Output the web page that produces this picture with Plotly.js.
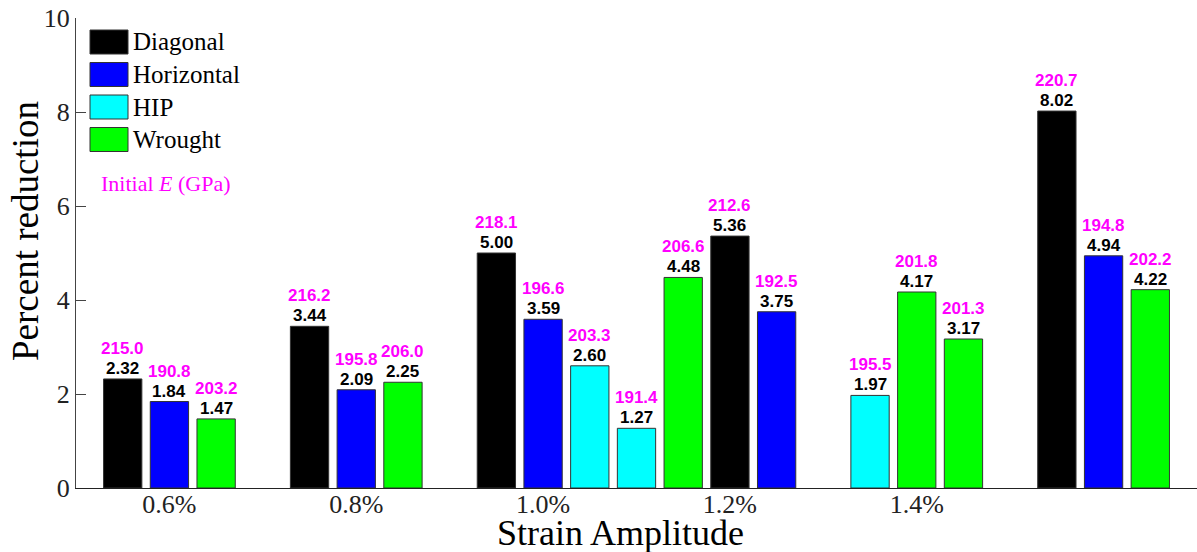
<!DOCTYPE html>
<html>
<head>
<meta charset="utf-8">
<script src="https://cdn.plot.ly/plotly-3.0.1.min.js"></script>
<style>
  html, body { margin: 0; padding: 0; background: #fff; }
  #chart { width: 1197px; height: 552px; }
</style>
</head>
<body>
<div id="chart"></div>
<script>
// Bar slots along the axis (one slot per bar, gaps between strain groups)
const diagonalSlots   = [0, 4, 8, 13, 20];
const diagonalValues  = [2.32, 3.44, 5.00, 5.36, 8.02];
const diagonalModulus = [215.0, 216.2, 218.1, 212.6, 220.7];

const horizontalSlots   = [1, 5, 9, 14, 21];
const horizontalValues  = [1.84, 2.09, 3.59, 3.75, 4.94];
const horizontalModulus = [190.8, 195.8, 196.6, 192.5, 194.8];

const hipSlots   = [10, 11, 16];
const hipValues  = [2.60, 1.27, 1.97];
const hipModulus = [203.3, 191.4, 195.5];

const wroughtSlots   = [2, 6, 12, 17, 18, 22];
const wroughtValues  = [1.47, 2.25, 4.48, 4.17, 3.17, 4.22];
const wroughtModulus = [203.2, 206.0, 206.6, 201.8, 201.3, 202.2];

const tickSlots  = [1, 5, 9, 13, 17];
const tickLabels = ['0.6%', '0.8%', '1.0%', '1.2%', '1.4%'];

const seriesNames = ['Diagonal', 'Horizontal', 'HIP', 'Wrought'];

const series = [
  { name: seriesNames[0], x: diagonalSlots,   y: diagonalValues,   e: diagonalModulus,   color: '#000000' },
  { name: seriesNames[1], x: horizontalSlots, y: horizontalValues, e: horizontalModulus, color: '#0000ff' },
  { name: seriesNames[2], x: hipSlots,        y: hipValues,        e: hipModulus,        color: '#00ffff' },
  { name: seriesNames[3], x: wroughtSlots,    y: wroughtValues,    e: wroughtModulus,    color: '#00ff00' }
];

const W = 1197, H = 552;
const M = { l: 76, r: 0, t: 18, b: 64 };
const plotW = W - M.l - M.r, plotH = H - M.t - M.b;
// pixel -> paper helpers for the hand-drawn legend
const px = X => (X - M.l) / plotW;
const py = Y => (H - M.b - Y) / plotH;

const serif = 'Liberation Serif, Times New Roman, serif';
const sans = 'Liberation Sans, Arial, sans-serif';

const traces = series.map(s => ({
  type: 'bar',
  name: s.name,
  x: s.x,
  y: s.y,
  width: 0.82,
  marker: { color: s.color, line: { color: '#333333', width: 1 } },
  showlegend: false,
  hoverinfo: 'x+y'
}));

const annotations = [];
series.forEach(s => {
  s.x.forEach((xv, i) => {
    annotations.push({
      x: xv, y: s.y[i], xref: 'x', yref: 'y',
      text: '<b>' + s.y[i].toFixed(2) + '</b>',
      showarrow: false, xanchor: 'center', yanchor: 'bottom', yshift: -1,
      font: { family: sans, size: 17, color: '#000000' }
    });
    annotations.push({
      x: xv, y: s.y[i], xref: 'x', yref: 'y',
      text: '<b>' + s.e[i].toFixed(1) + '</b>',
      showarrow: false, xanchor: 'center', yanchor: 'bottom', yshift: 19,
      font: { family: sans, size: 17, color: '#ff00ff' }
    });
  });
});

// legend: swatches + labels
const shapes = [];
const rowTop = [30, 62.5, 95, 127.5];
series.forEach((s, k) => {
  shapes.push({
    type: 'rect', xref: 'paper', yref: 'paper',
    x0: px(90), x1: px(128), y0: py(rowTop[k] + 24), y1: py(rowTop[k]),
    fillcolor: s.color, line: { color: '#333333', width: 1 }
  });
  annotations.push({
    xref: 'paper', yref: 'paper', x: px(131), y: py(rowTop[k] + 12),
    xanchor: 'left', yanchor: 'middle', showarrow: false,
    text: s.name, font: { family: serif, size: 25, color: '#000000' }
  });
});
annotations.push({
  xref: 'paper', yref: 'paper', x: px(166), y: py(184),
  xanchor: 'center', yanchor: 'middle', showarrow: false,
  text: 'Initial <i>E</i> (GPa)', font: { family: serif, size: 22, color: '#ff00ff' }
});

// axis titles
annotations.push({
  xref: 'paper', yref: 'paper', x: px(620), y: py(533),
  xanchor: 'center', yanchor: 'middle', showarrow: false,
  text: 'Strain Amplitude', font: { family: serif, size: 36, color: '#000000' }
});
annotations.push({
  xref: 'paper', yref: 'paper', x: px(25), y: py(231),
  xanchor: 'center', yanchor: 'middle', showarrow: false, textangle: -90,
  text: 'Percent reduction', font: { family: serif, size: 37, color: '#000000' }
});

const layout = {
  width: W, height: H,
  margin: M,
  paper_bgcolor: '#ffffff', plot_bgcolor: '#ffffff',
  barmode: 'overlay',
  showlegend: false,
  xaxis: {
    range: [-1, 23],
    tickmode: 'array', tickvals: tickSlots, ticktext: tickLabels,
    ticks: '', showgrid: false, zeroline: false,
    showline: true, linecolor: '#222222', linewidth: 1,
    tickfont: { family: serif, size: 26, color: '#222222' },
    ticklabelstandoff: -7
  },
  yaxis: {
    range: [0, 10],
    tickvals: [0, 2, 4, 6, 8, 10],
    ticks: 'inside', ticklen: 10, tickcolor: '#444444',
    showgrid: false, zeroline: false,
    showline: true, linecolor: '#444444', linewidth: 1,
    tickfont: { family: serif, size: 26, color: '#222222' }
  },
  shapes: shapes,
  annotations: annotations
};

Plotly.newPlot('chart', traces, layout, { displayModeBar: false, staticPlot: true });
</script>
</body>
</html>
